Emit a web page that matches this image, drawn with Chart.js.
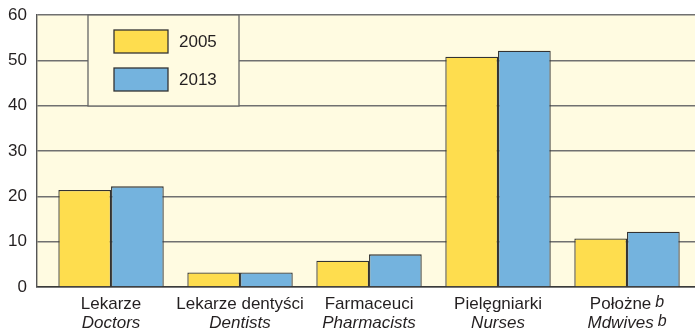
<!DOCTYPE html>
<html>
<head>
<meta charset="utf-8">
<script src="https://cdn.jsdelivr.net/npm/chart.js@4/dist/chart.umd.min.js"></script>
<style>
  html, body { margin: 0; padding: 0; background: #fff; }
  canvas { display: block; }
</style>
</head>
<body>
<canvas id="staffChart" width="695" height="331"></canvas>
<script>
// Categories: Polish name, English name and footnote marker
const categoriesPl = ['Lekarze', 'Lekarze dentyści', 'Farmaceuci', 'Pielęgniarki', 'Położne'];
const categoriesEn = ['Doctors', 'Dentists', 'Pharmacists', 'Nurses', 'Mdwives'];
const footnotes = ['', '', '', '', 'b'];

// Values per category
const values2005 = [21.4, 3.2, 5.8, 50.8, 10.7];
const values2013 = [22.2, 3.2, 7.2, 52.1, 12.2];
const seriesLabels = ['2005', '2013'];

// Y axis ticks
const yTicks = [0, 10, 20, 30, 40, 50, 60];

const FONT = '"Liberation Sans", Arial, Helvetica, sans-serif';
const TEXT = '#231f20';
const PLOT_BG = '#fffbe1';

const ctx = document.getElementById('staffChart').getContext('2d');

// Cream fill behind the plot area
const plotBackground = {
  id: 'plotBackground',
  beforeDraw(chart) {
    const { ctx, chartArea: a } = chart;
    ctx.save();
    ctx.fillStyle = PLOT_BG;
    ctx.fillRect(a.left, a.top, a.right - a.left, a.bottom - a.top);
    ctx.restore();
  }
};

// Boxed legend in the upper-left part of the plot
const boxLegend = {
  id: 'boxLegend',
  afterDatasetsDraw(chart) {
    const { ctx, chartArea: a } = chart;
    const x = a.left + 51, y = a.top, w = 151, h = 91;
    ctx.save();
    ctx.fillStyle = PLOT_BG;
    ctx.fillRect(x, y, w, h);
    ctx.strokeStyle = '#666';
    ctx.lineWidth = 1.3;
    ctx.strokeRect(x, y, w, h);
    chart.data.datasets.forEach((ds, i) => {
      const sy = y + 15 + i * 38;
      ctx.fillStyle = ds.backgroundColor;
      ctx.fillRect(x + 26, sy, 54, 23);
      ctx.strokeStyle = '#333';
      ctx.lineWidth = 1.3;
      ctx.strokeRect(x + 26, sy, 54, 23);
      ctx.fillStyle = TEXT;
      ctx.font = '17px ' + FONT;
      ctx.textBaseline = 'middle';
      ctx.textAlign = 'left';
      ctx.fillText(ds.label, x + 91, sy + 12);
    });
    ctx.restore();
  }
};

// Two-line category labels (Polish upright, English italic) with footnote markers
const categoryLabels = {
  id: 'categoryLabels',
  afterDraw(chart) {
    const { ctx } = chart;
    const xs = chart.scales.x;
    const bottom = chart.chartArea.bottom;
    ctx.save();
    ctx.fillStyle = TEXT;
    ctx.textBaseline = 'alphabetic';
    ctx.textAlign = 'left';
    const noteFont = 'italic 16px ' + FONT;
    const drawLine = (text, font, note, cx, base) => {
      ctx.font = font;
      const w = ctx.measureText(text).width;
      let noteW = 0;
      if (note) {
        ctx.font = noteFont;
        noteW = 4 + ctx.measureText(note).width;
      }
      const start = cx - (w + noteW) / 2;
      ctx.font = font;
      ctx.fillText(text, start, base);
      if (note) {
        ctx.font = noteFont;
        ctx.fillText(note, start + w + 4, base - 2.5);
      }
    };
    categoriesPl.forEach((pl, i) => {
      const cx = xs.getPixelForValue(i);
      drawLine(pl, '17px ' + FONT, footnotes[i], cx, bottom + 22);
      drawLine(categoriesEn[i], 'italic 17px ' + FONT, footnotes[i], cx, bottom + 41);
    });
    ctx.restore();
  }
};

const toPoints = arr => arr.map((v, i) => ({ x: i, y: v }));

new Chart(ctx, {
  type: 'bar',
  data: {
    datasets: [
      {
        label: seriesLabels[0],
        data: toPoints(values2005),
        backgroundColor: '#fedd4e',
        borderColor: '#333',
        borderWidth: 1.3,
        categoryPercentage: 0.817,
        barPercentage: 1
      },
      {
        label: seriesLabels[1],
        data: toPoints(values2013),
        backgroundColor: '#74b3de',
        borderColor: '#333',
        borderWidth: 1.3,
        categoryPercentage: 0.817,
        barPercentage: 1
      }
    ]
  },
  options: {
    responsive: false,
    animation: false,
    devicePixelRatio: 1,
    layout: { padding: { top: 15, bottom: 44, left: 0, right: 0 } },
    plugins: {
      legend: { display: false },
      tooltip: { enabled: false }
    },
    scales: {
      x: {
        type: 'linear',
        min: -0.574,
        max: 4.527,
        offset: false,
        grid: { display: false },
        border: { display: true, color: '#3a3a3a', width: 1.5 },
        ticks: { display: false },
        afterBuildTicks: s => { s.ticks = categoriesPl.map((_, i) => ({ value: i })); },
        afterFit: s => { s.height = 0; s.paddingLeft = 0; s.paddingRight = 0; }
      },
      y: {
        min: 0,
        max: 60,
        afterBuildTicks: s => { s.ticks = yTicks.map(v => ({ value: v })); },
        afterFit: s => { s.width = 37; s.paddingTop = 0; s.paddingBottom = 0; },
        grid: { color: '#707070', lineWidth: 1.4, drawTicks: false },
        border: { display: true, color: '#555', width: 1.4 },
        ticks: {
          padding: 10,
          color: TEXT,
          font: { family: FONT, size: 17 }
        }
      }
    }
  },
  plugins: [plotBackground, boxLegend, categoryLabels]
});
</script>
</body>
</html>
